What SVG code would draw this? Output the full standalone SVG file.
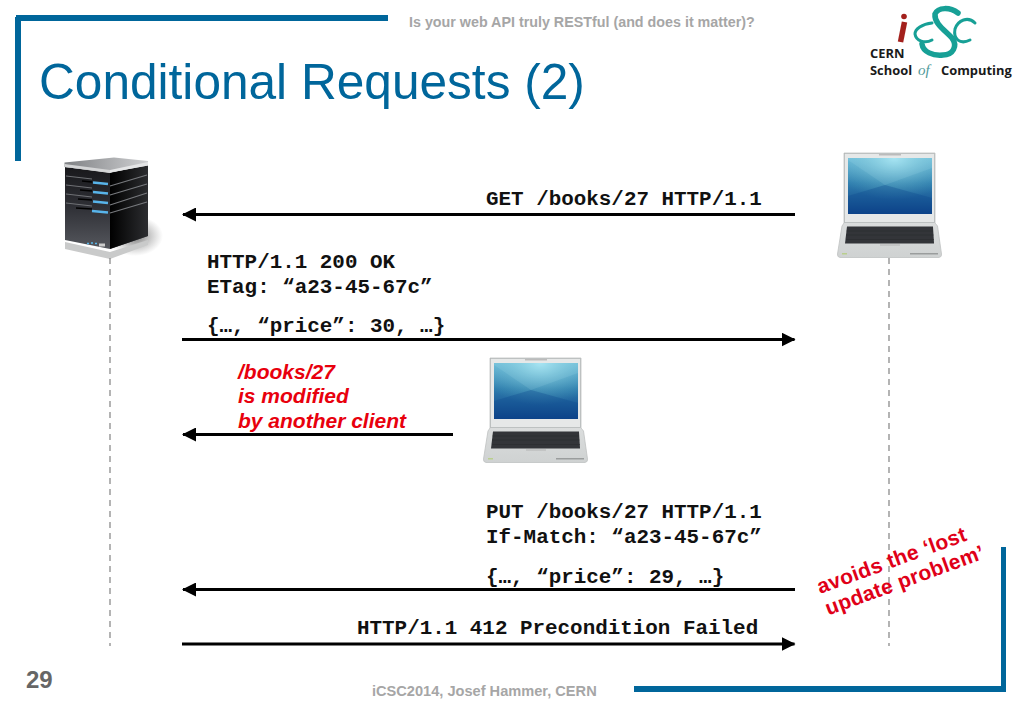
<svg xmlns="http://www.w3.org/2000/svg" xmlns:xlink="http://www.w3.org/1999/xlink" width="1023" height="708" viewBox="0 0 1023 708">
<style>
.m{font-family:"Liberation Mono",monospace;font-weight:700;font-size:20.9px;fill:#111}
.r{font-family:"Liberation Sans",Arial,sans-serif;font-weight:700;font-style:italic;font-size:21px;fill:#e8000d}
.a{font-family:"Liberation Sans",Arial,sans-serif;font-weight:700;font-size:21px;letter-spacing:.3px;fill:#e00018}
.g{font-family:"Liberation Sans",Arial,sans-serif;font-weight:700;fill:#a6a6a6}
.f{fill:#00669b}
.c{stroke:#000;stroke-width:3;fill:none}
.d{stroke:#8c8c8c;stroke-width:1.3;stroke-dasharray:6 5;fill:none}
.l{font-family:"Open Sans",sans-serif;font-weight:700;font-size:12.900px;fill:#1a1a1a}
.t{fill:none;stroke:#17a096;stroke-linecap:round}
</style>
<defs>
<marker id="ah" markerUnits="userSpaceOnUse" markerWidth="14" markerHeight="14" refX="13" refY="7" orient="auto"><path d="M0 0L14 7L0 14z" fill="#000"/></marker>
<linearGradient id="scr" x1="0" y1="0" x2="0" y2="1"><stop offset="0" stop-color="#6fbedd"/><stop offset=".45" stop-color="#2f7eaf"/><stop offset="1" stop-color="#0c3f86"/></linearGradient>
<radialGradient id="glow" cx=".55" cy="0" r=".75"><stop offset="0" stop-color="#a8e6f4" stop-opacity=".95"/><stop offset="1" stop-color="#5ab" stop-opacity="0"/></radialGradient>
<linearGradient id="base" x1="0" y1="0" x2="0" y2="1"><stop offset="0" stop-color="#f2f3f3"/><stop offset="1" stop-color="#cfd2d2"/></linearGradient>
<linearGradient id="front" x1="0" y1="0" x2="0" y2="1"><stop offset="0" stop-color="#17171a"/><stop offset=".5" stop-color="#2f3036"/><stop offset="1" stop-color="#55575d"/></linearGradient>
<linearGradient id="side" x1="0" y1="0" x2="1" y2="0"><stop offset="0" stop-color="#000"/><stop offset="1" stop-color="#2c2d30"/></linearGradient>
<linearGradient id="top" x1="0" y1="0" x2="1" y2="0"><stop offset="0" stop-color="#7f8184"/><stop offset="1" stop-color="#cfd0d2"/></linearGradient>
<radialGradient id="sh"><stop offset="0" stop-color="#444" stop-opacity=".75"/><stop offset="1" stop-color="#777" stop-opacity="0"/></radialGradient>
<g id="laptop">
<path d="M844 153H935V223L937.500 226L941.500 254Q942 257 939 257.500H840Q837 257 837.500 254L842 226L844 223Z" fill="url(#base)" stroke="#bfc2c2" stroke-width=".8"/>
<rect x="844.500" y="153.500" width="90" height="69" fill="#e6e8e8" stroke="#b5b8b8" stroke-width=".8"/>
<rect x="848" y="158" width="84" height="56" fill="url(#scr)"/>
<rect x="848" y="158" width="84" height="56" fill="url(#glow)"/>
<path d="M848 196L885 185L932 198V214H848Z" fill="#0d4a8e" opacity=".35"/>
<path d="M848 160L885 185L932 168V158H848Z" fill="#bdeefa" opacity=".12"/>
<path d="M847 226.500H933L934 243.500H845Z" fill="#333539"/>
<path d="M846.500 231H933M846 235H933.500M846 239.500H934" stroke="#2a2b2e" stroke-width=".6"/>
<rect x="879" y="154" width="22" height="1.500" fill="#bbb"/>
<rect x="880" y="244.500" width="20" height="1" fill="#b4b4b4"/>
<rect x="842" y="253" width="5" height="1.500" fill="#b9cf8e"/>
<rect x="910" y="253" width="28" height="1.500" fill="#9a9d9d"/>
</g>
</defs>
<rect width="1023" height="708" fill="#fff"/>
<g id="frame">
<rect class="f" x="16" y="15" width="372" height="6"/>
<rect class="f" x="15" y="17" width="6" height="144"/>
<rect class="f" x="634" y="686" width="372" height="6"/>
<rect class="f" x="1001" y="547" width="5" height="145"/>
</g>
<text id="header" class="g" x="409" y="27" font-size="14.300">Is your web API truly RESTful (and does it matter)?</text>
<text id="title" x="39" y="98.500" font-family="'Liberation Sans',Arial,sans-serif" font-size="49.600" fill="#00669b">Conditional Requests (2)</text>
<g id="logo">
<circle cx="904" cy="16.500" r="2.800" fill="#a3201c"/>
<path d="M904.500 22L900.500 42" stroke="#a3201c" stroke-width="5.500" fill="none"/>
<path class="t" stroke-width="3" d="M932 23C922 24 915 29 915 34C916 41 925 44 932 40"/>
<path class="t" stroke-width="5.500" d="M958 13C950 7 938 7 935 14C934 24 946 31 952 38C958 46 953 55 943 55C933 56 923 52 922 44"/>
<path class="t" stroke-width="3" d="M975 23C968 16 958 20 955 29C953 39 960 45 970 40"/>
<text class="l" x="870" y="57.500">CERN</text>
<text class="l" x="870" y="75">School</text>
<text x="918" y="75" font-family="'Liberation Serif',serif" font-style="italic" font-size="15" fill="#4f9a9a">of</text>
<text class="l" x="941" y="75">Computing</text>
</g>
<g id="server">
<ellipse cx="135" cy="236" rx="28" ry="20" fill="url(#sh)"/>
<path d="M65 242L110 252L148 240V245L110 259L65 249Z" fill="#c9caca"/>
<path d="M65 167L110 173L148 165V236L110 249L65 240Z" fill="url(#front)"/>
<path d="M110 173L148 165V236L110 249Z" fill="url(#side)"/>
<path d="M64.500 162.500L114 157.500L148 161V165.500L110 172.500L64.500 167Z" fill="url(#top)"/>
<path d="M64.500 164L110 170V172.500L64.500 167Z" fill="#d4d5d6"/>
<path d="M110 170L148 162V165.500L110 172.500Z" fill="#e4e5e6"/>
<path d="M66 176L92 179M66 185L92 188M66 194L92 197M66 203L92 206" stroke="#6f7175" stroke-width="1"/>
<path d="M82 181L92 182M80 190L92 191M78 199L92 200M76 208L92 209" stroke="#000" stroke-width="1.500"/>
<path d="M110 186L147 175M110 195L147 184M110 205L147 193M110 213L147 202" stroke="#77797d" stroke-width="1.200"/>
<path d="M93 182.500L108 184M93 192L108 193.500M93 201.500L108 203M92 211L108 212.500" stroke="#58b4ea" stroke-width="2.500"/>
<path d="M87 243.500h2M91 243h2M95 243.500h2" stroke="#5bb9ea" stroke-width="1.500"/>
<rect x="99" y="243.500" width="6" height="3" fill="#ccc"/>
</g>
<g id="lifelines">
<path class="d" d="M110 258V646"/>
<path class="d" d="M889 258V646"/>
</g>
<g id="laptop-right"><use xlink:href="#laptop" href="#laptop"/></g>
<g id="laptop-middle"><use xlink:href="#laptop" href="#laptop" x="-354" y="205"/></g>
<g id="connectors">
<path class="c" marker-end="url(#ah)" d="M795 214.500H183"/>
<path class="c" marker-end="url(#ah)" d="M182 339.500H794.500"/>
<path class="c" marker-end="url(#ah)" d="M453 434.500H183"/>
<path class="c" marker-end="url(#ah)" d="M795 589.500H183"/>
<path class="c" marker-end="url(#ah)" d="M182 644H794.500"/>
</g>
<g id="labels">
<text class="m" x="486" y="205">GET /books/27 HTTP/1.1</text>
<text class="m" x="207" y="268">HTTP/1.1 200 OK</text>
<text class="m" x="207" y="292.500">ETag: “a23-45-67c”</text>
<text class="m" x="207" y="331.500">{…, “price”: 30, …}</text>
<text class="r" x="238" y="379">/books/27</text>
<text class="r" x="238" y="403">is modified</text>
<text class="r" x="238" y="428">by another client</text>
<text class="m" x="486" y="518">PUT /books/27 HTTP/1.1</text>
<text class="m" x="486" y="543">If-Match: “a23-45-67c”</text>
<text class="m" x="486" y="583">{…, “price”: 29, …}</text>
<text class="m" x="357" y="634">HTTP/1.1 412 Precondition Failed</text>
<g transform="rotate(-20 820 594)"><text class="a" x="820" y="594">avoids the ‘lost</text><text class="a" x="820.500" y="617">update problem’</text></g>
</g>
<text id="page" x="26" y="688" font-family="'Liberation Sans',Arial,sans-serif" font-weight="700" font-size="24" fill="#666">29</text>
<text id="footer" class="g" x="372" y="696" font-size="14.600">iCSC2014, Josef Hammer, CERN</text>
</svg>
